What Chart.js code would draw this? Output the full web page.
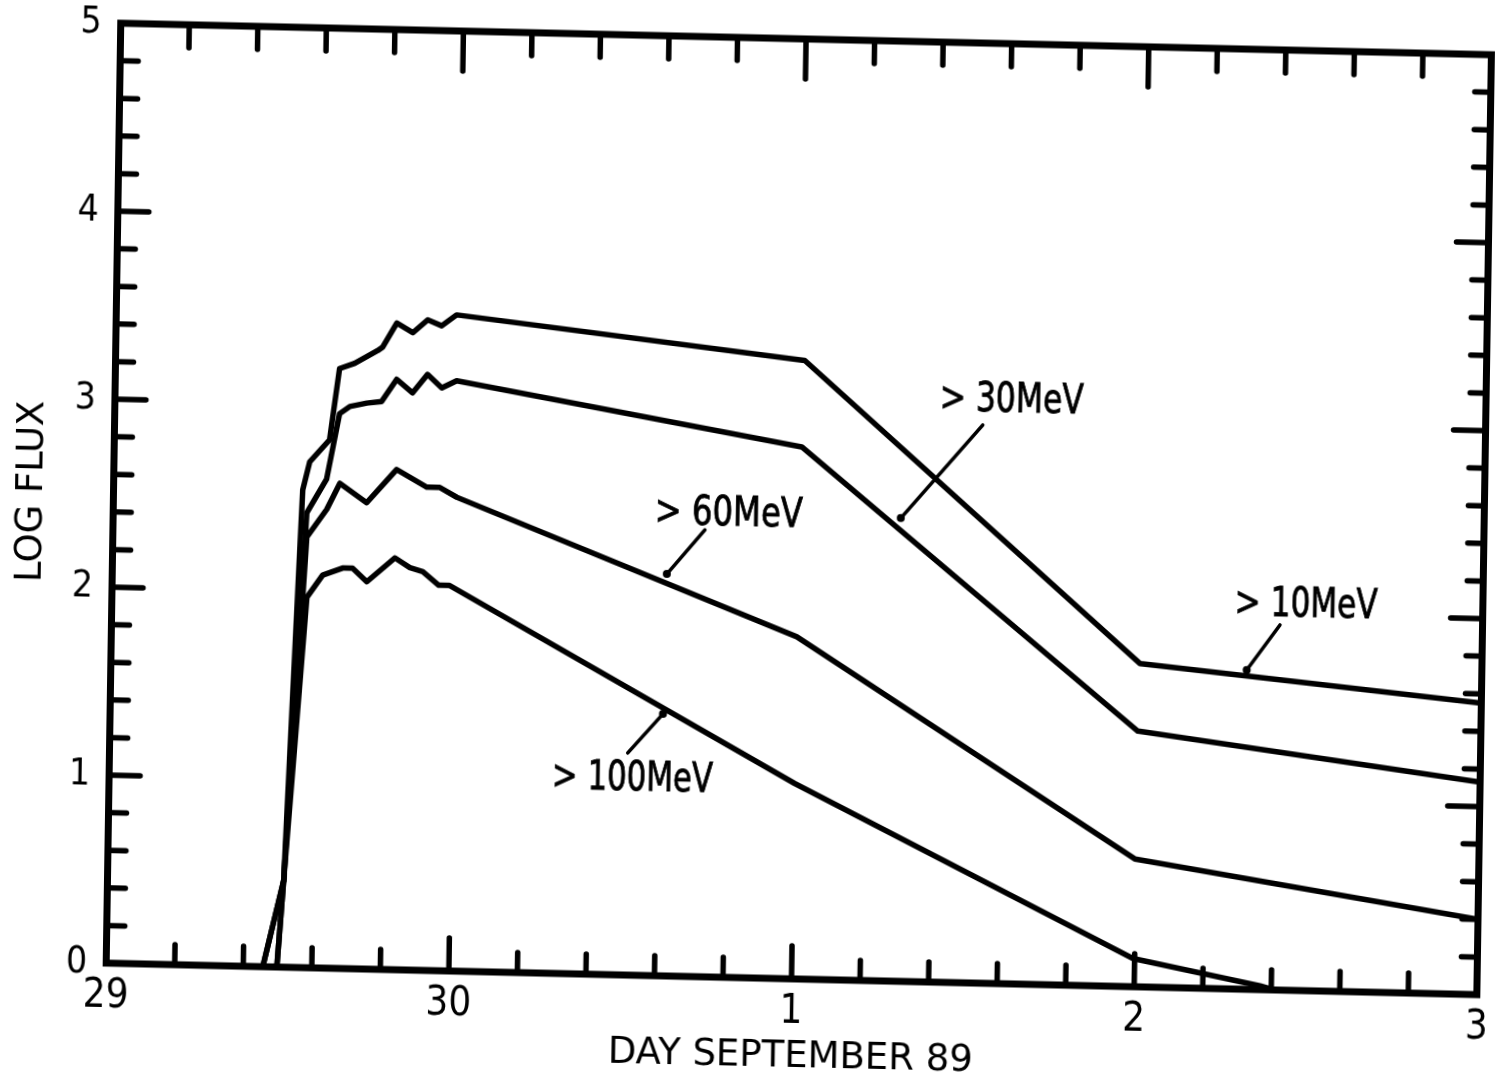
<!DOCTYPE html>
<html>
<head>
<meta charset="utf-8">
<script src="https://cdn.jsdelivr.net/npm/chart.js@4/dist/chart.umd.min.js"></script>
<style>
  html, body { margin: 0; padding: 0; background: #fff; overflow: hidden; }
  /* the scan is slightly skewed, so the whole canvas is too */
  #fluxChart {
    display: block;
    transform-origin: 799.25px 509.25px;
    transform: matrix(1, 0.023, -0.0155, 1, 0, 0);
  }
</style>
</head>
<body>
<canvas id="fluxChart" width="1496" height="1090"></canvas>
<script>
// --- data (x = days after 29 Sep 89 00h) ---
const dayLabels = ['29', '30', '1', '2', '3'];
const fluxLabels = ['0', '1', '2', '3', '4', '5'];

const day10  = [0.457, 0.514, 0.552, 0.571, 0.628, 0.654, 0.698, 0.764, 0.779, 0.819, 0.866, 0.909, 0.950, 0.993, 2.011, 3.002, 4.0];
const flux10 = [0, 0.46, 2.54, 2.69, 2.81, 3.19, 3.22, 3.29, 3.31, 3.44, 3.39, 3.46, 3.43, 3.49, 3.29, 1.72, 1.55];

const day30  = [0.457, 0.514, 0.565, 0.621, 0.656, 0.686, 0.735, 0.778, 0.821, 0.868, 0.911, 0.953, 0.996, 2.006, 2.999, 4.0];
const flux30 = [0, 0.46, 2.42, 2.60, 2.95, 2.99, 3.01, 3.02, 3.14, 3.07, 3.17, 3.10, 3.14, 2.83, 1.36, 1.13];

const day60  = [0.498, 0.514, 0.566, 0.623, 0.660, 0.739, 0.825, 0.914, 0.952, 1.002, 2.0, 2.996, 4.0];
const flux60 = [0, 0.46, 2.29, 2.44, 2.58, 2.48, 2.66, 2.57, 2.57, 2.52, 1.82, 0.68, 0.40];

const day100  = [0.498, 0.514, 0.569, 0.614, 0.672, 0.701, 0.743, 0.824, 0.868, 0.906, 0.953, 0.985, 2.0, 2.995, 3.367, 3.45];
const flux100 = [0, 0.46, 1.97, 2.09, 2.13, 2.13, 2.06, 2.19, 2.14, 2.12, 2.05, 2.05, 1.04, 0.15, 0.02, -0.02];

const minorStep = 0.2;

// labels with their leader lines (data coords), w = max text width in px
const notes = [
  { text: '> 10MeV',  at: [3.276, 2.043], from: [3.409, 1.942], to: [3.314, 1.698], w: 143 },
  { text: '> 30MeV',  at: [2.406, 3.097], from: [2.533, 2.969], to: [2.298, 2.464], w: 144 },
  { text: '> 60MeV',  at: [1.580, 2.461], from: [1.727, 2.377], to: [1.618, 2.138], w: 148 },
  { text: '> 100MeV', at: [1.292, 1.039], from: [1.512, 1.181], to: [1.613, 1.393], w: 161 }
];

const FONT = "'DejaVu Sans Condensed', 'DejaVu Sans', sans-serif";

function toPoints(xs, ys) {
  return xs.map((x, i) => ({ x: x, y: ys[i] }));
}

function series(label, xs, ys) {
  return {
    label: label,
    data: toPoints(xs, ys),
    borderColor: '#000',
    borderWidth: 5.5,
    borderJoinStyle: 'round',
    borderCapStyle: 'round',
    pointRadius: 0,
    tension: 0
  };
}

// box, inward ticks on all four sides
const frameTicks = {
  id: 'frameTicks',
  afterDatasetsDraw(chart) {
    const { ctx, chartArea: a, scales: { x, y } } = chart;
    const seg = (x1, y1, x2, y2) => {
      ctx.beginPath(); ctx.moveTo(x1, y1); ctx.lineTo(x2, y2); ctx.stroke();
    };
    ctx.save();
    ctx.strokeStyle = '#000';
    ctx.lineCap = 'round';
    ctx.lineWidth = 5.5;
    const nx = Math.round((x.max - x.min) / minorStep);
    for (let i = 1; i < nx; i++) {
      const px = x.getPixelForValue(x.min + i * minorStep);
      const major = i % 5 === 0;
      seg(px, a.bottom, px, a.bottom - (major ? 33 : 20));
      seg(px, a.top, px, a.top + (major ? 40 : 23));
    }
    const ny = Math.round((y.max - y.min) / minorStep);
    for (let i = 1; i < ny; i++) {
      const py = y.getPixelForValue(y.min + i * minorStep);
      const major = i % 5 === 0;
      seg(a.left, py, a.left + (major ? 31 : 18), py);
      seg(a.right, py, a.right - (major ? 32 : 16), py);
    }
    ctx.lineCap = 'butt';
    ctx.lineJoin = 'miter';
    ctx.lineWidth = 7;
    ctx.strokeRect(a.left, a.top, a.right - a.left, a.bottom - a.top);
    ctx.restore();
  }
};

const noteLabels = {
  id: 'noteLabels',
  afterDraw(chart) {
    const { ctx, scales: { x, y } } = chart;
    ctx.save();
    ctx.fillStyle = '#000';
    ctx.strokeStyle = '#000';
    ctx.lineCap = 'round';
    ctx.font = '40px ' + FONT;
    ctx.textAlign = 'left';
    ctx.textBaseline = 'middle';
    notes.forEach(n => {
      const tx = x.getPixelForValue(n.at[0]), ty = y.getPixelForValue(n.at[1]);
      ctx.lineWidth = 0.8;
      ctx.fillText(n.text, tx, ty, n.w);
      ctx.strokeText(n.text, tx, ty, n.w);
      const x1 = x.getPixelForValue(n.from[0]), y1 = y.getPixelForValue(n.from[1]);
      const x2 = x.getPixelForValue(n.to[0]), y2 = y.getPixelForValue(n.to[1]);
      ctx.lineWidth = 3.5;
      ctx.beginPath(); ctx.moveTo(x1, y1); ctx.lineTo(x2, y2); ctx.stroke();
      ctx.beginPath(); ctx.arc(x2, y2, 4, 0, Math.PI * 2); ctx.fill();
    });
    ctx.restore();
  }
};

new Chart(document.getElementById('fluxChart'), {
  type: 'line',
  data: {
    datasets: [
      series('>10MeV', day10, flux10),
      series('>30MeV', day30, flux30),
      series('>60MeV', day60, flux60),
      series('>100MeV', day100, flux100)
    ]
  },
  options: {
    responsive: false,
    animation: false,
    events: [],
    layout: { padding: { top: 39, right: 11.5, left: 0, bottom: 0 } },
    plugins: { legend: { display: false }, tooltip: { enabled: false } },
    scales: {
      x: {
        type: 'linear',
        min: 0,
        max: 4,
        grid: { display: false, drawTicks: false },
        border: { display: false },
        ticks: {
          stepSize: 1,
          padding: 10,
          color: '#000',
          font: { family: FONT, size: 40 },
          maxRotation: 0,
          callback: v => dayLabels[v]
        },
        title: {
          display: true,
          text: 'DAY SEPTEMBER 89',
          color: '#000',
          font: { family: "'DejaVu Sans', sans-serif", size: 37 },
          padding: { top: 0, bottom: 10 }
        },
        afterFit: s => { s.height = 111; s.paddingLeft = 0; s.paddingRight = 0; }
      },
      y: {
        min: 0,
        max: 5,
        grid: { display: false, drawTicks: false },
        border: { display: false },
        ticks: {
          stepSize: 1,
          padding: 19,
          color: '#000',
          font: { family: FONT, size: 37 },
          callback: v => fluxLabels[v]
        },
        title: {
          display: true,
          text: 'LOG FLUX',
          color: '#000',
          font: { family: "'DejaVu Sans', sans-serif", size: 37 },
          padding: { top: 10, bottom: 0 }
        },
        afterFit: s => { s.width = 113.5; s.paddingTop = 0; s.paddingBottom = 0; }
      }
    }
  },
  plugins: [frameTicks, noteLabels]
});
</script>
</body>
</html>
